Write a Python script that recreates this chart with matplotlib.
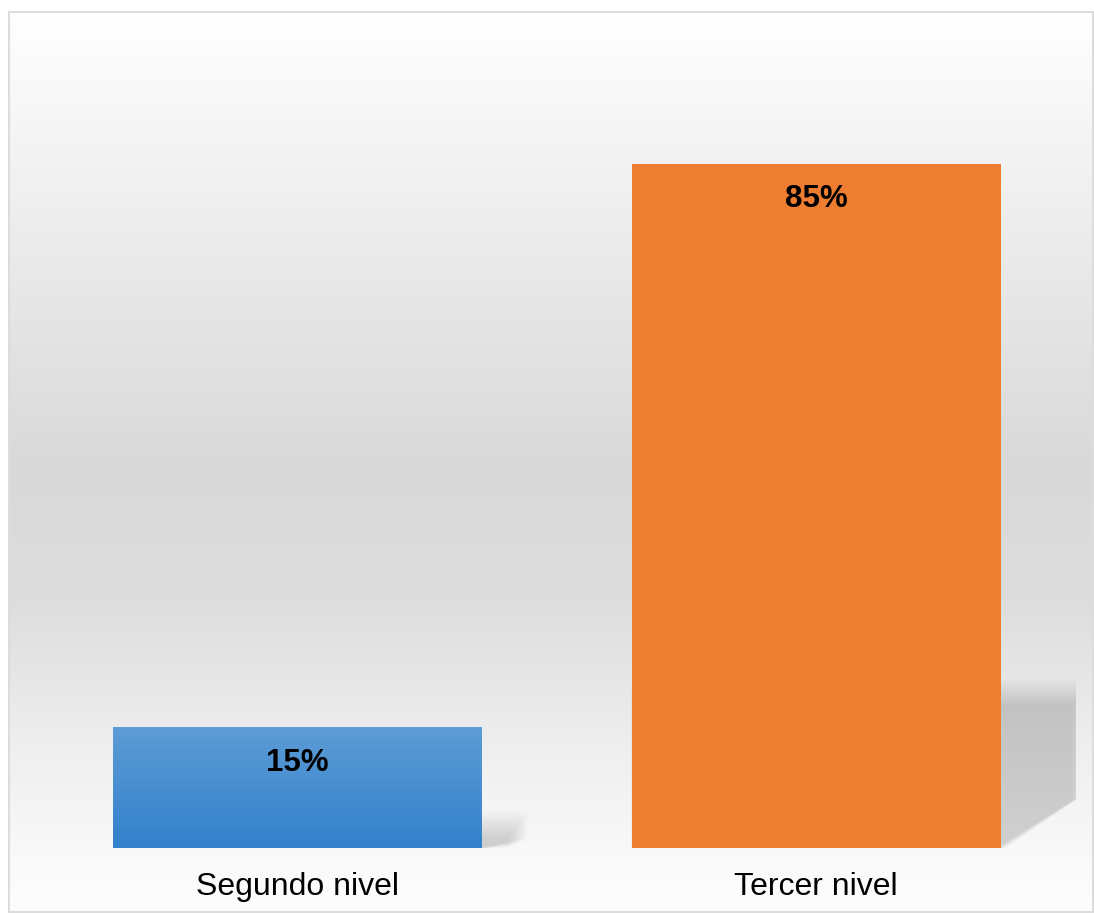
import numpy as np
import matplotlib
matplotlib.use('Agg')
from matplotlib import pyplot as plt
from matplotlib.patches import Rectangle, Polygon
from matplotlib.colors import LinearSegmentedColormap

categories = ['Segundo nivel', 'Tercer nivel']
values = [15, 85]
labels = ['15%', '85%']

plt.rcParams['font.family'] = ['Liberation Sans', 'DejaVu Sans']

W, H = 1094, 913
fig = plt.figure(figsize=(W / 100, H / 100), dpi=100)
fig.patch.set_facecolor('white')

# background panel with vertical grey gradient + border
bg = fig.add_axes([0, 0, 1, 1], zorder=0)
bg.set_xlim(0, W)
bg.set_ylim(H, 0)
bg.axis('off')
stops = [(0.0, (1, 1, 1)), (0.25, (0.925, 0.925, 0.925)), (0.5, (0.851, 0.851, 0.851)),
         (0.65, (0.865, 0.865, 0.865)), (0.8, (0.93, 0.93, 0.93)), (0.95, (0.98, 0.98, 0.98)),
         (1.0, (0.995, 0.995, 0.995))]
bg_cmap = LinearSegmentedColormap.from_list('bg', stops)
grad = np.linspace(0, 1, 512).reshape(-1, 1)
bg.imshow(grad, cmap=bg_cmap, extent=(9, 1093, 912, 13), aspect='auto', interpolation='bilinear')
bg.add_patch(Rectangle((8.5, 12.5), 1084, 900, fill=False, edgecolor='#dcdcdc', lw=1.5))

# main chart
ax = fig.add_axes([38 / W, 65 / H, 1037.5 / W, 805 / H], zorder=1)
ax.patch.set_alpha(0)
x = np.arange(len(categories))
width = 0.711
colors = ['#5B9BD5', '#ED7D31']

# soft perspective shadows behind bars
n = 10
a = 1 - 0.845 ** (1 / n)
for xi, v in zip(x, values):
    x0, x1 = xi - width / 2, xi + width / 2
    top = 0.235 * v + 1.0
    dx = 0.15 * np.sqrt(v / 85)
    knee = 0.085 * v
    for i in range(n):
        t = top - i * 0.35
        xr = x1 + dx + 0.025 - i * 0.004
        k = knee - i * 0.15
        xb = x1 + 0.01 - i * 0.002
        poly = Polygon([(x0, 0), (x0, t), (xr, t), (xr, k), (xb, 0)], closed=True,
                       facecolor='black', edgecolor='none', alpha=a, zorder=1)
        ax.add_patch(poly)

bars = ax.bar(x, values, width=width, color=colors, zorder=2)

# gradient fill for the blue bar
blue_cmap = LinearSegmentedColormap.from_list('blue', ['#3381CB', '#5D9CD6'])
b = bars[0]
im = ax.imshow(np.linspace(0, 1, 256).reshape(-1, 1), cmap=blue_cmap, origin='lower',
               extent=(b.get_x(), b.get_x() + b.get_width(), 0, b.get_height()),
               aspect='auto', zorder=2.5, interpolation='bilinear')
im.set_clip_path(b)

for bar, lab in zip(bars, labels):
    ax.annotate(lab, (bar.get_x() + bar.get_width() / 2, bar.get_height()),
                xytext=(0, -25.5), textcoords='offset points', ha='center', va='center',
                fontsize=22.5, fontweight='bold', color='black', zorder=3)

ax.set_xlim(-0.5, 1.5)
ax.set_ylim(0, 100)
ax.set_xticks(x)
ax.set_xticklabels(categories, fontsize=23)
ax.tick_params(axis='x', length=0, pad=17.5)
ax.set_yticks([])
for s in ax.spines.values():
    s.set_visible(False)

fig.savefig('out.png', dpi=100)
